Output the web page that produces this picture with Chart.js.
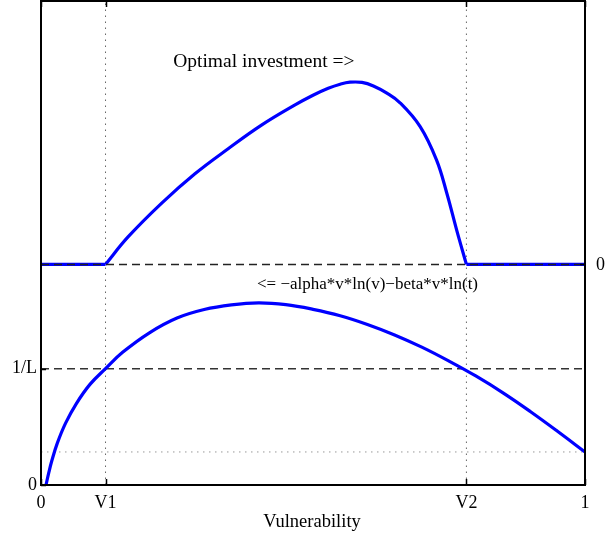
<!DOCTYPE html>
<html>
<head>
<meta charset="utf-8">
<script src="https://cdn.jsdelivr.net/npm/chart.js@4.4.0/dist/chart.umd.min.js"></script>
<style>
  body { margin: 0; background: #fff; }
</style>
</head>
<body>
<canvas id="vulnChart" width="607" height="540"></canvas>
<script>
const ctx = document.getElementById('vulnChart').getContext('2d');

// positions on the vulnerability axis
const V1 = 0.1186;
const V2 = 0.782;
const yMax = 4.16;
const levelL = 1;        // 1/L
const upperZero = 1.896; // zero line of the investment curve
const dottedLevel = 0.284;

// lower curve: -alpha*v*ln(v) - beta*v*ln(t)
const lowerX = [0.0092, 0.014, 0.02, 0.03, 0.045, 0.065, 0.09, 0.1186, 0.15, 0.2, 0.25, 0.3, 0.35, 0.4, 0.45, 0.5, 0.55, 0.6, 0.65, 0.7, 0.75, 0.8, 0.85, 0.9, 0.95, 1.0];
const lowerY = [0, 0.10, 0.21, 0.36, 0.53, 0.70, 0.865, 1.0, 1.14, 1.31, 1.435, 1.508, 1.548, 1.565, 1.55, 1.51, 1.455, 1.38, 1.29, 1.185, 1.065, 0.935, 0.79, 0.63, 0.46, 0.284];

// upper curve: optimal investment (zero below V1 and above V2)
const upperX = [0, 0.1186, 0.16, 0.2224, 0.283, 0.344, 0.406, 0.467, 0.5, 0.528, 0.55, 0.568, 0.59, 0.611, 0.635, 0.66, 0.697, 0.727, 0.746, 0.764, 0.782, 1.0];
const upperY = [1.896, 1.896, 2.132, 2.425, 2.675, 2.89, 3.095, 3.267, 3.35, 3.41, 3.445, 3.462, 3.46, 3.43, 3.37, 3.285, 3.08, 2.794, 2.508, 2.193, 1.896, 1.896];

const xTickValues = [0, V1, V2, 1];
const xTickLabels = ['0', 'V1', 'V2', '1'];
const leftTickValues = [0, levelL];
const leftTickLabels = ['0', '1/L'];
const rightTickValues = [upperZero];
const rightTickLabels = ['0'];

const FONT = '"Liberation Serif", "Times New Roman", serif';

function pts(xs, ys) {
    return xs.map((x, i) => ({ x: x, y: ys[i] }));
}

const upperPts = pts(upperX, upperY);
const riseEnd = upperPts.length - 2;

const framePlugin = {
    id: 'frame',
    afterDatasetsDraw(chart) {
        const c = chart.ctx;
        const a = chart.chartArea;
        const xs = chart.scales.x;
        const ys = chart.scales.y;
        c.save();
        c.strokeStyle = '#000';
        c.lineWidth = 2;
        c.strokeRect(a.left, a.top, a.right - a.left, a.bottom - a.top);

        // inward ticks
        c.lineWidth = 1.5;
        c.beginPath();
        xTickValues.forEach(v => {
            const px = Math.round(xs.getPixelForValue(v)) + 0.5;
            c.moveTo(px, a.bottom); c.lineTo(px, a.bottom - 6);
            c.moveTo(px, a.top); c.lineTo(px, a.top + 6);
        });
        leftTickValues.forEach(v => {
            const py = Math.round(ys.getPixelForValue(v)) + 0.5;
            c.moveTo(a.left, py); c.lineTo(a.left + 5, py);
        });
        rightTickValues.forEach(v => {
            const py = Math.round(ys.getPixelForValue(v)) + 0.5;
            c.moveTo(a.right, py); c.lineTo(a.right - 5, py);
        });
        c.stroke();

        c.fillStyle = '#000';
        c.font = '18px ' + FONT;
        c.textBaseline = 'middle';
        c.textAlign = 'center';
        xTickValues.forEach((v, i) => {
            c.fillText(xTickLabels[i], xs.getPixelForValue(v), a.bottom + 18);
        });
        c.textAlign = 'right';
        leftTickValues.forEach((v, i) => {
            c.fillText(leftTickLabels[i], a.left - 4, ys.getPixelForValue(v));
        });
        c.textAlign = 'left';
        rightTickValues.forEach((v, i) => {
            c.fillText(rightTickLabels[i], a.right + 11, ys.getPixelForValue(v) + 1);
        });

        c.textAlign = 'center';
        c.font = '18.5px ' + FONT;
        c.fillText('Vulnerability', (a.left + a.right) / 2 - 1, a.bottom + 37);

        // annotations
        c.textAlign = 'left';
        c.font = '19.5px ' + FONT;
        c.fillText('Optimal investment =>', xs.getPixelForValue(0.243), ys.getPixelForValue(3.637));
        c.font = '17px ' + FONT;
        c.fillText('<= \u2212alpha*v*ln(v)\u2212beta*v*ln(t)', xs.getPixelForValue(0.397), ys.getPixelForValue(1.72));
        c.restore();
    }
};

const blue = { borderColor: '#0000ff', borderWidth: 3.2, showLine: true, pointRadius: 0, order: 1 };
const dotted = { borderColor: '#666', borderWidth: 1, borderDash: [1.5, 4.5], showLine: true, pointRadius: 0, order: 4 };

const vulnChart = new Chart(ctx, {
    type: 'scatter',
    data: {
        datasets: [
            {
                data: pts([0, 1], [upperZero, upperZero]),
                borderColor: '#222', borderWidth: 1.5, borderDash: [8, 5],
                showLine: true, pointRadius: 0, order: 0
            },
            {
                data: pts([0, 1], [levelL, levelL]),
                borderColor: '#333', borderWidth: 1.5, borderDash: [8, 5],
                showLine: true, pointRadius: 0, order: 3
            },
            Object.assign({}, dotted, { data: pts([0, 1], [dottedLevel, dottedLevel]), borderColor: '#999' }),
            Object.assign({}, dotted, { data: pts([V1, V1], [0, yMax]) }),
            Object.assign({}, dotted, { data: pts([V2, V2], [0, yMax]) }),
            Object.assign({}, blue, { data: pts(lowerX, lowerY), tension: 0.4 }),
            Object.assign({}, blue, { data: upperPts.slice(0, 2) }),
            Object.assign({}, blue, { data: upperPts.slice(1, riseEnd + 1), tension: 0.4 }),
            Object.assign({}, blue, { data: upperPts.slice(riseEnd) })
        ]
    },
    options: {
        responsive: false,
        animation: false,
        devicePixelRatio: 1,
        layout: { padding: { left: 41, top: 1, right: 22, bottom: 55 } },
        plugins: {
            legend: { display: false },
            tooltip: { enabled: false }
        },
        scales: {
            x: { type: 'linear', min: 0, max: 1, display: false },
            y: { type: 'linear', min: 0, max: yMax, display: false }
        }
    },
    plugins: [framePlugin]
});
</script>
</body>
</html>
